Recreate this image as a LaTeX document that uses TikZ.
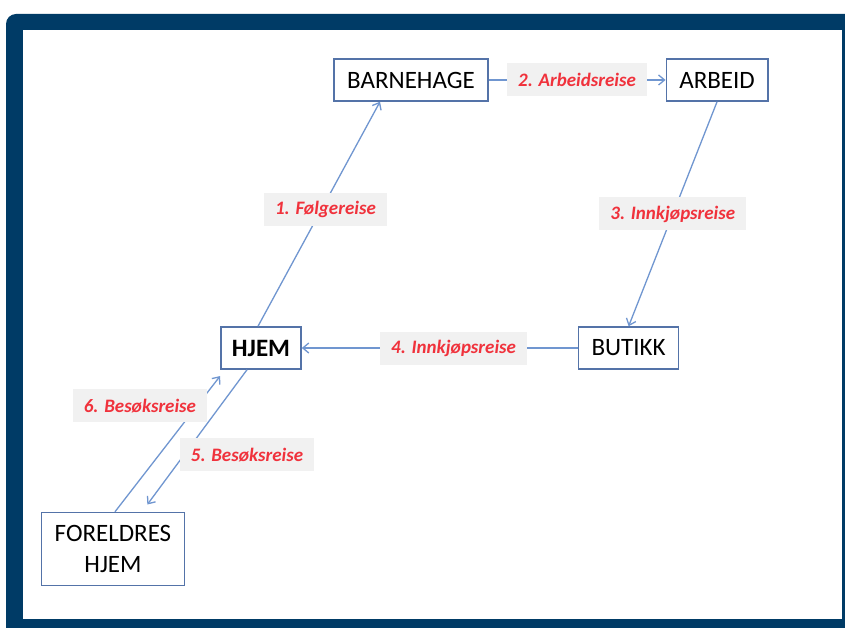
\documentclass[tikz,border=0pt]{standalone}
\usepackage{fontspec}
\setmainfont{Carlito}
\usepackage{tikz}
\usepackage{xcolor}
\usetikzlibrary{positioning}
\usetikzlibrary{arrows.meta}
\definecolor{frame}{RGB}{0, 59, 102}
\definecolor{boxline}{RGB}{84, 115, 168}
\definecolor{tripline}{RGB}{112, 150, 208}
\definecolor{tripred}{RGB}{240, 50, 60}
\definecolor{tripbg}{RGB}{241, 241, 241}
\tikzstyle{place} = [
	draw=boxline,
	line width=1.5pt,
	fill=white,
	minimum height=42pt,
	inner xsep=13pt,
	align=center,
	font=\fontsize{25}{31}\selectfont
]
\tikzstyle{trip} = [
	fill=tripbg,
	text=tripred,
	minimum height=33pt,
	inner xsep=11pt,
	font=\fontsize{19}{22}\selectfont\bfseries\itshape
]
\tikzstyle{leg} = [
	draw=tripline,
	line width=1.3pt,
	-{Straight Barb[length=6pt,width=10pt]}
]

\begin{document}
\begin{tikzpicture}[x=1pt, y=-1pt]
	\useasboundingbox (0,0) rectangle (845,628);
	\clip (0,0) rectangle (845,628);
	
	% Frame
	\fill[white] (0,0) rectangle (845,628);
	\fill[frame, rounded corners=10pt] (6,14) rectangle (880,660);
	\fill[white] (23,30) rectangle (842,619);
	
	% Places
	\node[place] (BH) at (411,80) {BARNEHAGE};
	\node[place, right=177pt of BH] (AR) {ARBEID};
	\node[place, font=\fontsize{25}{31}\selectfont\bfseries, inner xsep=11pt] (HJ) at (261,348) {HJEM};
	\node[place, right=276pt of HJ] (BU) {BUTIKK};
	\node[place, minimum height=73pt] (FH) at (113,549) {FORELDRES\\HJEM};
	
	% Trips
	\draw[leg] ([xshift=-3pt]HJ.north) -- ([xshift=-31pt]BH.south)
		node[trip, pos=0.52, xshift=4pt] (T1) {1. Følgereise};
	\draw[leg] (BH.east) -- (AR.east -| AR.west)
		node[trip, midway] (T2) {2. Arbeidsreise};
	\draw[leg] (AR.south) -- (BU.north)
		node[trip, midway] (T3) {3. Innkjøpsreise};
	\draw[leg] (BU.west) -- (HJ.east)
		node[trip, pos=0.45] (T4) {4. Innkjøpsreise};
	\draw[leg, shorten >=9pt] ([xshift=-14pt]HJ.south) -- ([xshift=29pt]FH.north)
		node[trip, pos=0.6, xshift=63pt] (T5) {5. Besøksreise};
	\draw[leg, shorten >=8pt] ([xshift=2pt]FH.north) -- ([xshift=-36pt]HJ.south)
		node[trip, pos=0.745, xshift=-57pt] (T6) {6. Besøksreise};
	
\end{tikzpicture}
\end{document}
